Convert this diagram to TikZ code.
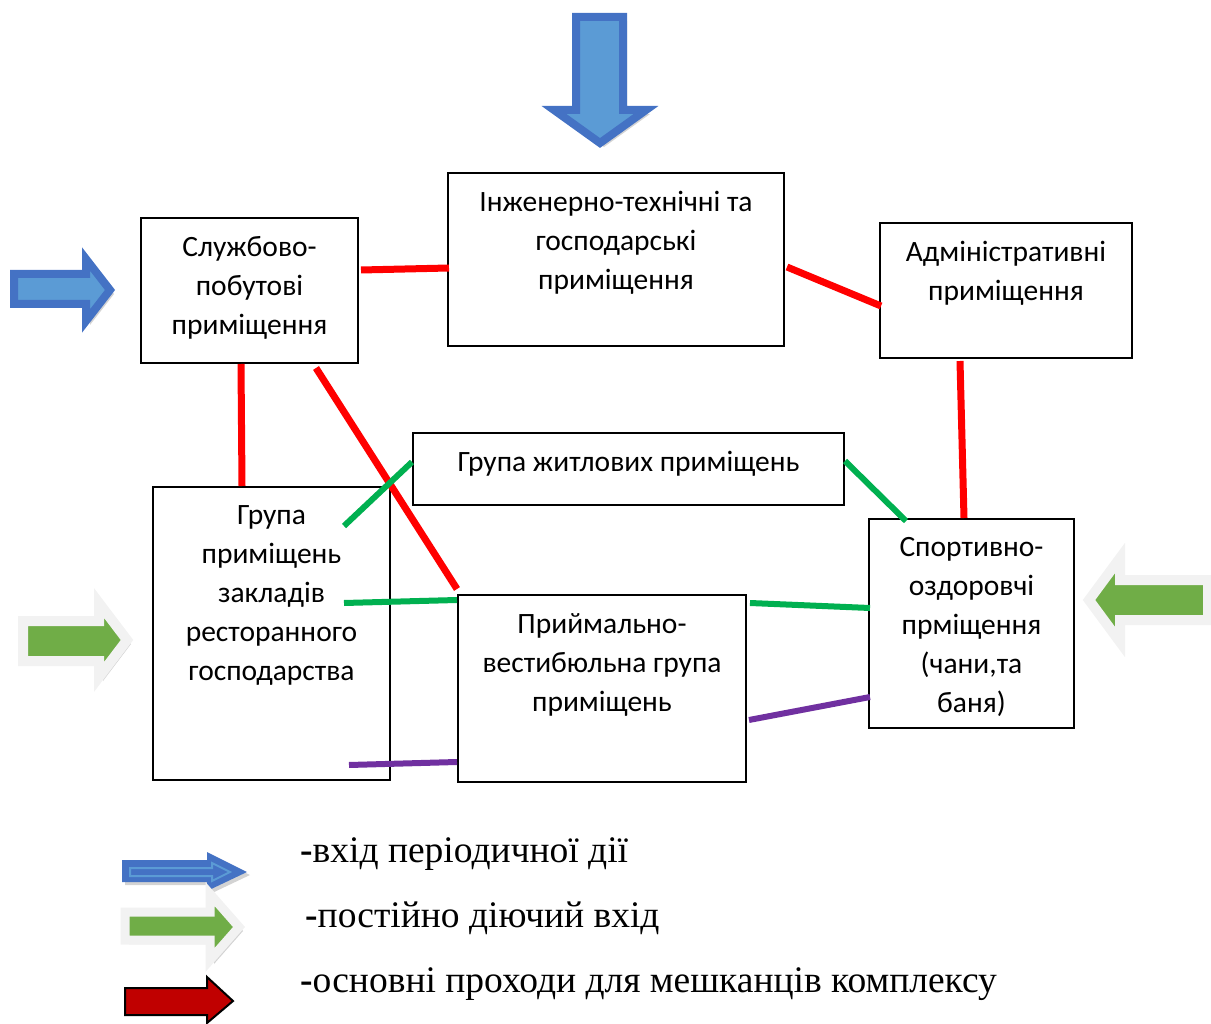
\documentclass[tikz,border=0pt]{standalone}
\usepackage{fontspec}
\setmainfont{Liberation Serif}
\newfontfamily\roomfont{Carlito}
\usetikzlibrary{calc,shadows}

\definecolor{linkred}{HTML}{FF0000}
\definecolor{linkgreen}{HTML}{00B050}
\definecolor{linkviolet}{HTML}{7030A0}
\definecolor{arrblue}{HTML}{4472C4}
\definecolor{arrlight}{HTML}{5B9BD5}
\definecolor{arrgreen}{HTML}{70AD47}
\definecolor{arrred}{HTML}{C00000}
\definecolor{arrrim}{HTML}{F2F2F2}

\begin{document}
\begin{tikzpicture}[x=1pt,y=-1pt,
        room/.style={draw,line width=2pt,inner sep=0pt},
        roomtext/.style={font=\roomfont\fontsize{29.5}{39}\selectfont,align=center,anchor=north,inner sep=0pt,yshift=-19pt},
        redlink/.style={linkred,line width=7pt},
        greenlink/.style={linkgreen,line width=6pt},
        violetlink/.style={linkviolet,line width=6pt},
        bluearrow/.style={draw=arrblue,fill=arrlight,line width=8pt,line join=miter,
                          drop shadow={shadow xshift=4pt,shadow yshift=-4pt,opacity=.35}},
        greenarrow/.style={draw=arrrim,fill=arrgreen,line width=10pt,line join=miter,
                          drop shadow={shadow xshift=4pt,shadow yshift=-4pt,opacity=.35}},
        legendtext/.style={anchor=base west,inner sep=0pt,font=\fontsize{37.5}{40}\selectfont}]
        \useasboundingbox (0,0) rectangle (1211,1024);

        \node (sluzh) at (249.5,290.5) [room,minimum width=217pt,minimum height=145pt,
              label={[roomtext]north:{Службово-\\побутові\\приміщення}}] {};
        \node (inzh)  at (616,259.5)   [room,minimum width=336pt,minimum height=173pt,
              label={[roomtext]north:{Інженерно-технічні та\\господарські\\приміщення}}] {};
        \node (admin) at (1006,290.5)  [room,minimum width=252pt,minimum height=135pt,
              label={[roomtext]north:{Адміністративні\\приміщення}}] {};
        \node (zhytl) at (628.5,469)   [room,minimum width=431pt,minimum height=72pt,
              label={[roomtext]north:{Група житлових приміщень}}] {};
        \node (rest)  at (271.5,633.5) [room,minimum width=237pt,minimum height=293pt,
              label={[roomtext]north:{Група\\приміщень\\закладів\\ресторанного\\господарства}}] {};
        \node (pryim) at (602,688.5)   [room,minimum width=288pt,minimum height=187pt,
              label={[roomtext]north:{Приймально-\\вестибюльна група\\приміщень}}] {};
        \node (sport) at (971.5,623.5) [room,minimum width=205pt,minimum height=209pt,
              label={[roomtext]north:{Спортивно-\\оздоровчі\\прміщення\\(чани,та\\баня)}}] {};

        \draw[redlink] ($(sluzh.east)+(2,-20.5)$) -- ($(inzh.west)+(2,8.5)$);
        \draw[redlink] ($(inzh.east)+(2,7.5)$) -- ($(admin.west)+(2,15.5)$);
        \draw[redlink] ($(sluzh.south)+(-8.5,0)$) -- ($(rest.north)+(-29.5,0)$);
        \draw[redlink] ($(sluzh.south)+(66.5,4)$) -- ($(pryim.north west)+(0,-5)$);
        \draw[redlink] ($(admin.south)+(-46,2)$) -- ($(sport.north)+(-7.5,0)$);

        \draw[greenlink] ($(rest.north east)+(-47,40)$) -- ($(zhytl.west)+(0,-7)$);
        \draw[greenlink] ($(zhytl.east)+(0,-8)$) -- ($(sport.north west)+(38,3)$);
        \draw[greenlink] ($(rest.east)+(-47,-30.5)$) -- ($(pryim.north west)+(0,6)$);
        \draw[greenlink] ($(pryim.north east)+(3,9)$) -- ($(sport.west)+(2,-15.5)$);

        \draw[violetlink] ($(rest.south east)+(-42,-16)$) -- ($(pryim.west)+(0,73.5)$);
        \draw[violetlink] ($(pryim.east)+(2,31.5)$) -- ($(sport.west)+(2,73.5)$);

        % entrances
        \draw[bluearrow] (576,17) -- (623,17) -- (623,110) -- (646,110) -- (600,143)
                         -- (554,110) -- (576,110) -- cycle;
        \draw[bluearrow] (14,274) -- (86,274) -- (86,259) -- (110,290) -- (86,321)
                         -- (86,304) -- (14,304) -- cycle;
        \draw[greenarrow] (23,621) -- (99,621) -- (99,603) -- (127,640) -- (99,677)
                          -- (99,661) -- (23,661) -- cycle;
        \draw[greenarrow] (1089,600) -- (1120,558) -- (1120,580) -- (1208,580)
                          -- (1208,620) -- (1120,620) -- (1120,642) -- cycle;

        % legend
        \fill[arrblue,drop shadow={shadow xshift=3pt,shadow yshift=-3pt,opacity=.35}]
             (122,860) -- (207,860) -- (207,852) -- (247,872) -- (207,891) -- (207,882)
             -- (122,882) -- cycle;
        \draw[arrlight,line width=2pt] (130,868) -- (212,868) -- (212,863) -- (230,872)
             -- (212,881) -- (212,876) -- (130,876) -- cycle;
        \draw[greenarrow,line width=9pt] (125,912) -- (210,912) -- (210,894) -- (239,927)
             -- (210,960) -- (210,940) -- (125,940) -- cycle;
        \draw[fill=arrred,line width=2pt] (125,988) -- (207,988) -- (207,977) -- (233,1001)
             -- (207,1023) -- (207,1015) -- (125,1015) -- cycle;

        \node (legper)  at (300,862) [legendtext] {{\bfseries-}вхід періодичної дії};
        \node (legpost) at (305,927) [legendtext] {{\bfseries-}постійно діючий вхід};
        \node (legmain) at (300,992) [legendtext] {{\bfseries-}основні проходи для мешканців комплексу};
\end{tikzpicture}
\end{document}
